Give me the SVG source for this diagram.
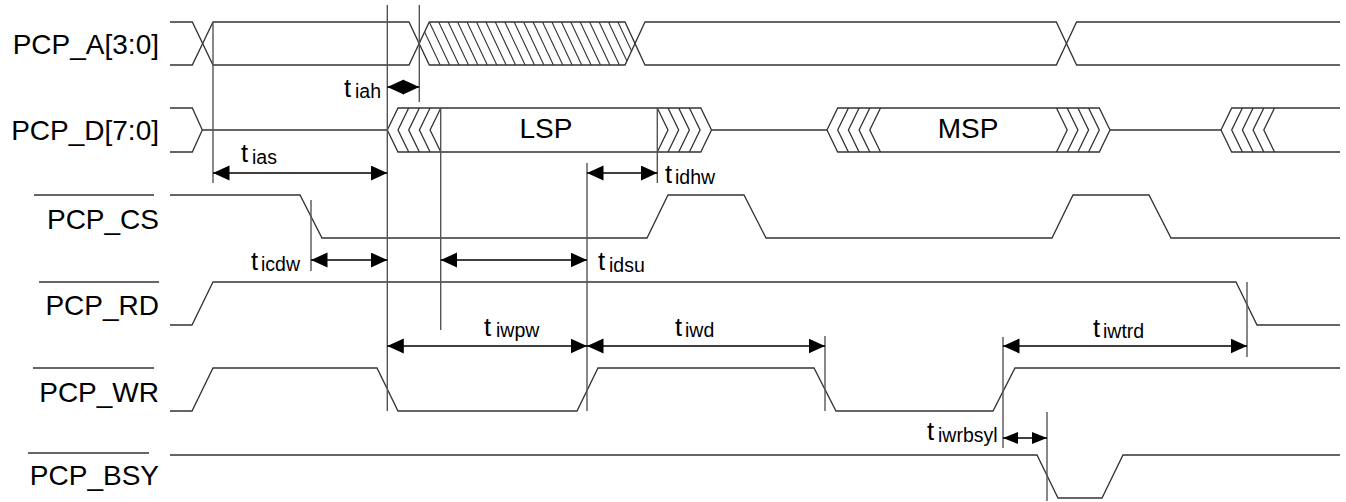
<svg xmlns="http://www.w3.org/2000/svg" width="1346" height="502" viewBox="0 0 1346 502">
<style>
.sig{fill:none;stroke:#333;stroke-width:1.3;stroke-linejoin:miter}
.ext{stroke:#555;stroke-width:1.4;fill:none}
.dim{stroke:#000;stroke-width:1.3;fill:none;marker-start:url(#ah);marker-end:url(#ah)}
.dims{stroke:#000;stroke-width:1.3;fill:none;marker-start:url(#ahs);marker-end:url(#ahs)}
.lbl{font-family:"Liberation Sans",Arial,Helvetica,sans-serif;font-size:28px;fill:#000}
.t{font-family:"Liberation Sans",Arial,Helvetica,sans-serif;font-size:25.5px;fill:#000}
.s{font-size:19.5px}
.ov{stroke:#333;stroke-width:1.5}
.hatch{stroke:#333;stroke-width:1.1}
</style>
<defs>
<marker id="ah" markerUnits="userSpaceOnUse" markerWidth="17" markerHeight="16" refX="16.5" refY="7.5" orient="auto-start-reverse"><path d="M0,0 L16.5,7.5 L0,15 z" fill="#000"/></marker>
<marker id="ahs" markerUnits="userSpaceOnUse" markerWidth="15" markerHeight="12" refX="15" refY="6" orient="auto-start-reverse"><path d="M0,0 L15,6 L0,12 z" fill="#000"/></marker>
<clipPath id="hclip"><polygon points="419.2,43.5 429.3,22 625,22 635,43.5 625,65 429.3,65"/></clipPath>
</defs>
<rect width="1346" height="502" fill="#fff"/>

<g id="pcp_a">
<text class="lbl" x="159" y="54" text-anchor="end">PCP_A[3:0]</text>
<path class="sig" d="M170,22 H192.3 L213,65 H409 L429.3,22 H625 L645,65 H1056.3 L1076.6,22 H1340"/>
<path class="sig" d="M170,65 H192.3 L213,22 H409 L429.3,65 H625 L645,22 H1056.3 L1076.6,65 H1340"/>
<g clip-path="url(#hclip)" class="hatch">
<line x1="419.9" y1="22" x2="440.2" y2="65"/>
<line x1="429.3" y1="22" x2="449.6" y2="65"/>
<line x1="438.7" y1="22" x2="459" y2="65"/>
<line x1="448.2" y1="22" x2="468.5" y2="65"/>
<line x1="457.6" y1="22" x2="477.9" y2="65"/>
<line x1="467" y1="22" x2="487.3" y2="65"/>
<line x1="476.5" y1="22" x2="496.8" y2="65"/>
<line x1="485.9" y1="22" x2="506.2" y2="65"/>
<line x1="495.3" y1="22" x2="515.6" y2="65"/>
<line x1="504.8" y1="22" x2="525.1" y2="65"/>
<line x1="514.2" y1="22" x2="534.5" y2="65"/>
<line x1="523.6" y1="22" x2="543.9" y2="65"/>
<line x1="533.1" y1="22" x2="553.4" y2="65"/>
<line x1="542.5" y1="22" x2="562.8" y2="65"/>
<line x1="551.9" y1="22" x2="572.2" y2="65"/>
<line x1="561.4" y1="22" x2="581.7" y2="65"/>
<line x1="570.8" y1="22" x2="591.1" y2="65"/>
<line x1="580.2" y1="22" x2="600.5" y2="65"/>
<line x1="589.6" y1="22" x2="609.9" y2="65"/>
<line x1="599.1" y1="22" x2="619.4" y2="65"/>
<line x1="608.5" y1="22" x2="628.8" y2="65"/>
<line x1="617.9" y1="22" x2="638.2" y2="65"/>
</g>
</g>

<g id="pcp_d">
<text class="lbl" x="159" y="140" text-anchor="end">PCP_D[7:0]</text>
<path class="sig" d="M170,108 H192.3 L202.3,130 L192.3,152 H170"/>
<path class="sig" d="M202.3,130 H387.3"/>
<path class="sig" d="M387.3,130 L398,108 H700.8 L711.5,130 L700.8,152 H398 Z"/>
<path class="sig" d="M408.7,108 L398,130 L408.7,152 M419.4,108 L408.7,130 L419.4,152 M430.1,108 L419.4,130 L430.1,152 M440.8,108 L430.1,130 L440.8,152"/>
<path class="sig" d="M657.3,108 L668,130 L657.3,152 M668,108 L678.7,130 L668,152 M678.7,108 L689.4,130 L678.7,152 M689.4,108 L700.1,130 L689.4,152"/>
<text class="lbl" x="546" y="138" text-anchor="middle">LSP</text>
<path class="sig" d="M711.5,130 H827"/>
<path class="sig" d="M827,130 L837.7,108 H1099.3 L1110,130 L1099.3,152 H837.7 Z"/>
<path class="sig" d="M848.4,108 L837.7,130 L848.4,152 M859.1,108 L848.4,130 L859.1,152 M869.8,108 L859.1,130 L869.8,152 M880.5,108 L869.8,130 L880.5,152"/>
<path class="sig" d="M1056.5,108 L1067.2,130 L1056.5,152 M1067.2,108 L1077.9,130 L1067.2,152 M1077.9,108 L1088.6,130 L1077.9,152 M1088.6,108 L1099.3,130 L1088.6,152"/>
<text class="lbl" x="968" y="138" text-anchor="middle">MSP</text>
<path class="sig" d="M1110,130 H1221"/>
<path class="sig" d="M1340,108 H1231.7 L1221,130 L1231.7,152 H1340"/>
<path class="sig" d="M1242.4,108 L1231.7,130 L1242.4,152 M1253.1,108 L1242.4,130 L1253.1,152 M1263.8,108 L1253.1,130 L1263.8,152 M1274.5,108 L1263.8,130 L1274.5,152"/>
</g>

<g id="pcp_cs">
<line class="ov" x1="34" y1="195" x2="154" y2="195"/>
<text class="lbl" x="159" y="229" text-anchor="end">PCP_CS</text>
<path class="sig" d="M170,195 H300 L322,238 H647 L668,195 H744 L766,238 H1052 L1073,195 H1149 L1171,238 H1340"/>
</g>

<g id="pcp_rd">
<line class="ov" x1="39" y1="282" x2="159" y2="282"/>
<text class="lbl" x="159" y="315" text-anchor="end">PCP_RD</text>
<path class="sig" d="M170,325 H192 L213,282 H1236 L1257,325 H1340"/>
</g>

<g id="pcp_wr">
<line class="ov" x1="33" y1="368" x2="154" y2="368"/>
<text class="lbl" x="159" y="402" text-anchor="end">PCP_WR</text>
<path class="sig" d="M170,411 H192 L213,368 H377 L398,411 H577 L598,368 H814 L836,411 H993 L1015,368 H1340"/>
</g>

<g id="pcp_bsy">
<line class="ov" x1="28" y1="453" x2="149" y2="453"/>
<text class="lbl" x="159" y="485" text-anchor="end">PCP_BSY</text>
<path class="sig" d="M170,455 H1037 L1058,498 H1102 L1123,455 H1340"/>
</g>

<g id="connectors">
<line class="ext" x1="213" y1="22" x2="213" y2="183"/>
<line class="ext" x1="387.3" y1="5" x2="387.3" y2="411"/>
<line class="ext" x1="419.3" y1="5" x2="419.3" y2="102"/>
<line class="ext" x1="440.7" y1="108" x2="440.7" y2="330"/>
<line class="ext" x1="311" y1="200" x2="311" y2="271"/>
<line class="ext" x1="587" y1="163" x2="587" y2="411"/>
<line class="ext" x1="657.3" y1="108" x2="657.3" y2="183"/>
<line class="ext" x1="825" y1="336" x2="825" y2="411"/>
<line class="ext" x1="1003" y1="337" x2="1003" y2="448"/>
<line class="ext" x1="1047" y1="412" x2="1047" y2="501"/>
<line class="ext" x1="1247" y1="282" x2="1247" y2="357"/>

<line class="dim" x1="387.3" y1="87" x2="419.3" y2="87"/>
<line class="dim" x1="213" y1="173" x2="387.3" y2="173"/>
<line class="dim" x1="587" y1="173" x2="657.3" y2="173"/>
<line class="dim" x1="311" y1="260" x2="387.3" y2="260"/>
<line class="dim" x1="440.7" y1="260" x2="587" y2="260"/>
<line class="dim" x1="387.3" y1="346" x2="587" y2="346"/>
<line class="dim" x1="587" y1="346" x2="825" y2="346"/>
<line class="dim" x1="1003" y1="346" x2="1247" y2="346"/>
<line class="dims" x1="1003" y1="438" x2="1047" y2="438"/>
</g>

<g id="timing-labels">
<text class="t" x="344" y="97">t<tspan class="s" x="355" y="98">iah</tspan></text>
<text class="t" x="241" y="162">t<tspan class="s" x="252" y="164">ias</tspan></text>
<text class="t" x="665" y="183">t<tspan class="s" x="675" y="184">idhw</tspan></text>
<text class="t" x="251" y="270">t<tspan class="s" x="261" y="271">icdw</tspan></text>
<text class="t" x="598" y="270">t<tspan class="s" x="609" y="272">idsu</tspan></text>
<text class="t" x="484" y="336">t<tspan class="s" x="496" y="337">iwpw</tspan></text>
<text class="t" x="675" y="336">t<tspan class="s" x="685" y="337">iwd</tspan></text>
<text class="t" x="1093" y="337">t<tspan class="s" x="1103" y="338">iwtrd</tspan></text>
<text class="t" x="927" y="440">t<tspan class="s" x="938" y="442">iwrbsyl</tspan></text>
</g>
</svg>
